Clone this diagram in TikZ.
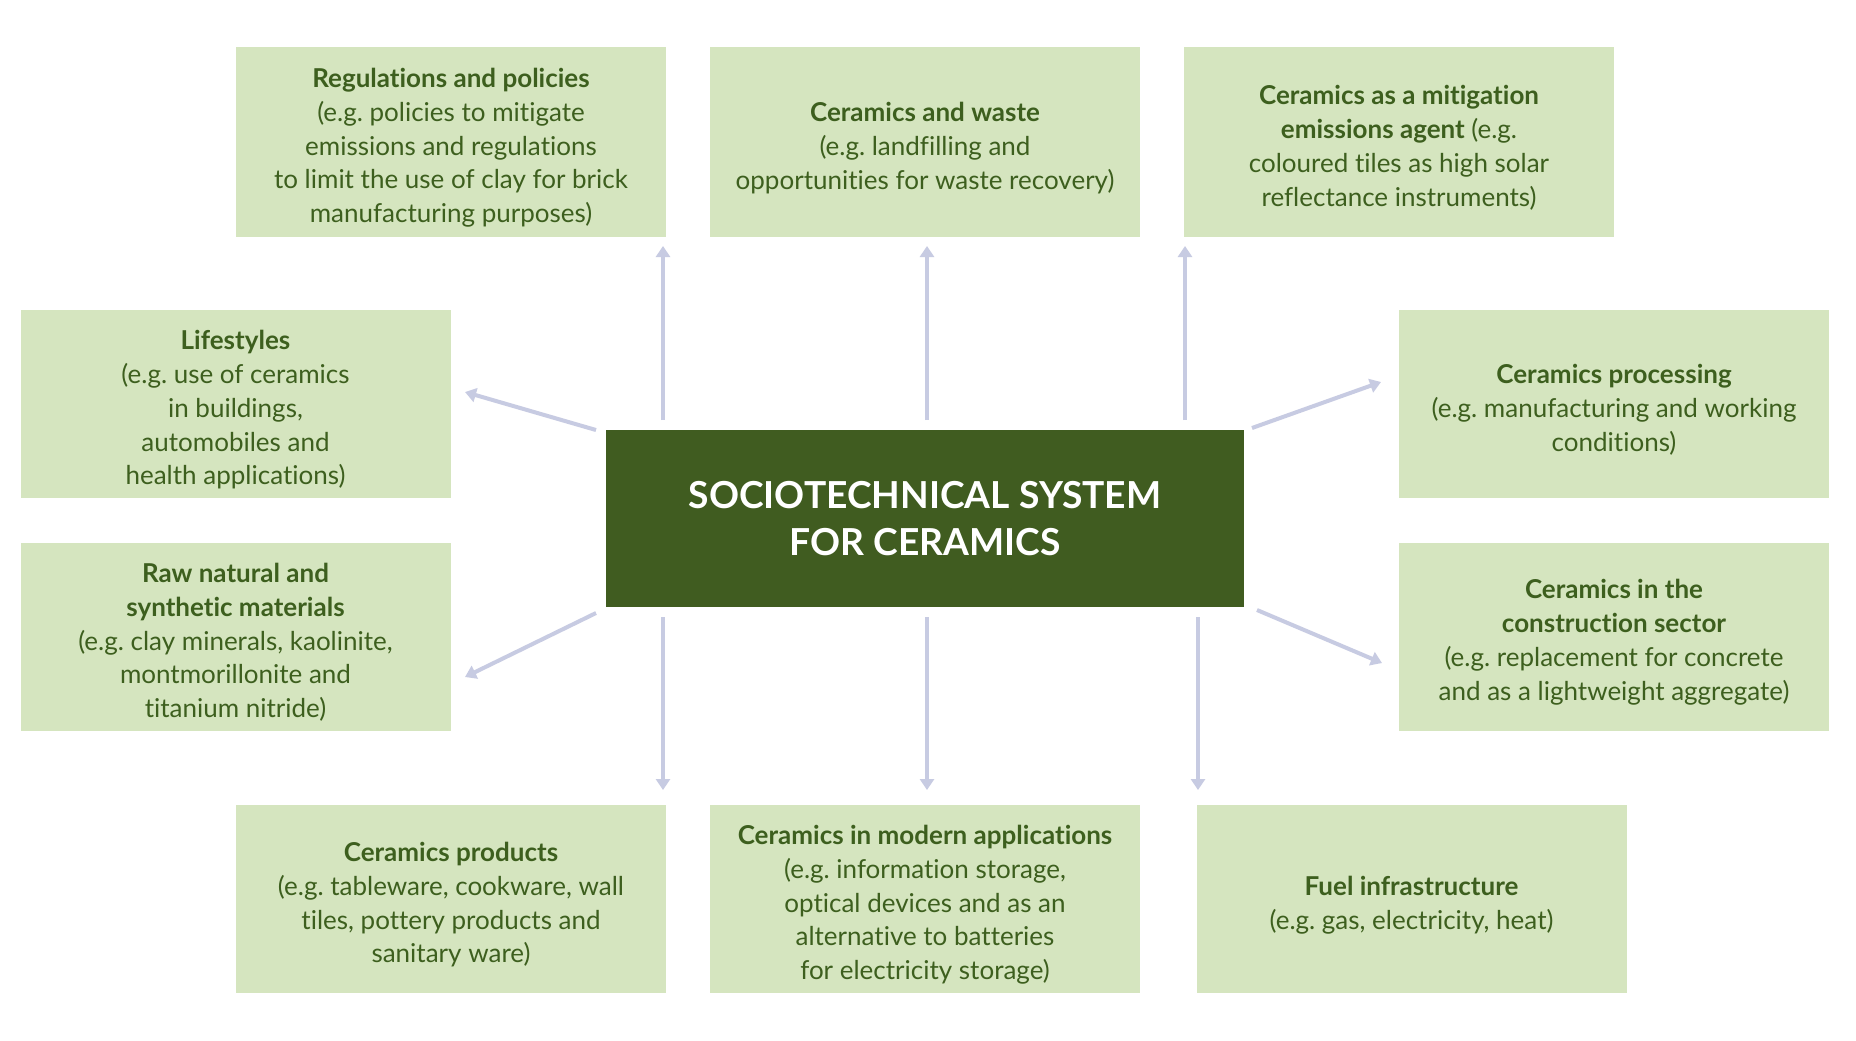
\documentclass[tikz,border=0pt]{standalone}
\usepackage{fontspec}
\setmainfont{Lato}[Ligatures=NoCommon]
\usetikzlibrary{arrows.meta}
\definecolor{boxfill}{HTML}{D5E5BF}
\definecolor{txtgreen}{HTML}{3D5F1E}
\definecolor{darkgreen}{HTML}{405C20}
\definecolor{arrowcol}{HTML}{C7CBE2}
\newcommand\tp{\rule{0pt}{15.5pt}}
\frenchspacing
\begin{document}
\begin{tikzpicture}[x=0.5pt,y=-0.5pt,
  box/.style={fill=boxfill, draw=none, minimum width=215pt, minimum height=95pt, align=center, text=txtgreen, font=\fontsize{13}{16.9}\selectfont\frenchspacing, inner sep=0pt},
  sidebox/.style={box, minimum height=94pt},
  core/.style={fill=darkgreen, draw=none, minimum width=319pt, minimum height=88.5pt, align=center, text=white, font=\fontsize{18.6}{23.5}\selectfont\bfseries, inner sep=0pt},
  arr/.style={draw=arrowcol, line width=2pt, -{Triangle[length=5.5pt,width=7pt]}}]
\useasboundingbox[fill=white] (0,0) rectangle (1856,1040);

\node[core] (c) at (925,518.5) {SOCIOTECHNICAL SYSTEM\\FOR CERAMICS};

\node[box] (reg) at (451,142) {\tp\textbf{Regulations and policies}\\(e.g. policies to mitigate\\emissions and regulations\\to limit the use of clay for brick\\manufacturing purposes)};
\node[box] (waste) at (925,142) {\tp\textbf{Ceramics and waste}\\(e.g. landfilling and\\opportunities for waste recovery)};
\node[box] (mitig) at (1399,142) {\tp\textbf{Ceramics as a mitigation}\\\textbf{emissions agent} (e.g.\\coloured tiles as high solar\\reflectance instruments)};

\node[sidebox] (life) at (235.5,404) {\tp\textbf{Lifestyles}\\(e.g. use of ceramics\\in buildings,\\automobiles and\\health applications)};
\node[sidebox] (raw) at (235.5,636.5) {\tp\textbf{Raw natural and}\\\textbf{synthetic materials}\\(e.g. clay minerals, kaolinite,\\montmorillonite and\\titanium nitride)};
\node[sidebox] (proc) at (1614,404) {\tp\textbf{Ceramics processing}\\(e.g. manufacturing and working\\conditions)};
\node[sidebox] (constr) at (1614,636.5) {\tp\textbf{Ceramics in the}\\\textbf{construction sector}\\(e.g. replacement for concrete\\and as a lightweight aggregate)};

\node[sidebox] (prod) at (451,899) {\tp\textbf{Ceramics products}\\(e.g. tableware, cookware, wall\\tiles, pottery products and\\sanitary ware)};
\node[sidebox] (modern) at (925,899) {\tp\textbf{Ceramics in modern applications}\\(e.g. information storage,\\optical devices and as an\\alternative to batteries\\for electricity storage)};
\node[sidebox] (fuel) at (1411.5,899) {\tp\textbf{Fuel infrastructure}\\(e.g. gas, electricity, heat)};

% arrow end points
\coordinate (u1s) at (663,420);  \coordinate (u1e) at (663,246);
\coordinate (u2s) at (927,420);  \coordinate (u2e) at (927,246);
\coordinate (u3s) at (1185,420); \coordinate (u3e) at (1185,246);
\coordinate (d1s) at (663,617);  \coordinate (d1e) at (663,790);
\coordinate (d2s) at (927,617);  \coordinate (d2e) at (927,790);
\coordinate (d3s) at (1198,617); \coordinate (d3e) at (1198,790);
\coordinate (l1s) at (596,430);  \coordinate (l1e) at (465,392);
\coordinate (l2s) at (596,613);  \coordinate (l2e) at (465,677);
\coordinate (r1s) at (1252,428); \coordinate (r1e) at (1381,382);
\coordinate (r2s) at (1257,610); \coordinate (r2e) at (1382,663);

\draw[arr] (u1s) -- (u1e);
\draw[arr] (u2s) -- (u2e);
\draw[arr] (u3s) -- (u3e);
\draw[arr] (d1s) -- (d1e);
\draw[arr] (d2s) -- (d2e);
\draw[arr] (d3s) -- (d3e);
\draw[arr] (l1s) -- (l1e);
\draw[arr] (l2s) -- (l2e);
\draw[arr] (r1s) -- (r1e);
\draw[arr] (r2s) -- (r2e);
\end{tikzpicture}
\end{document}
